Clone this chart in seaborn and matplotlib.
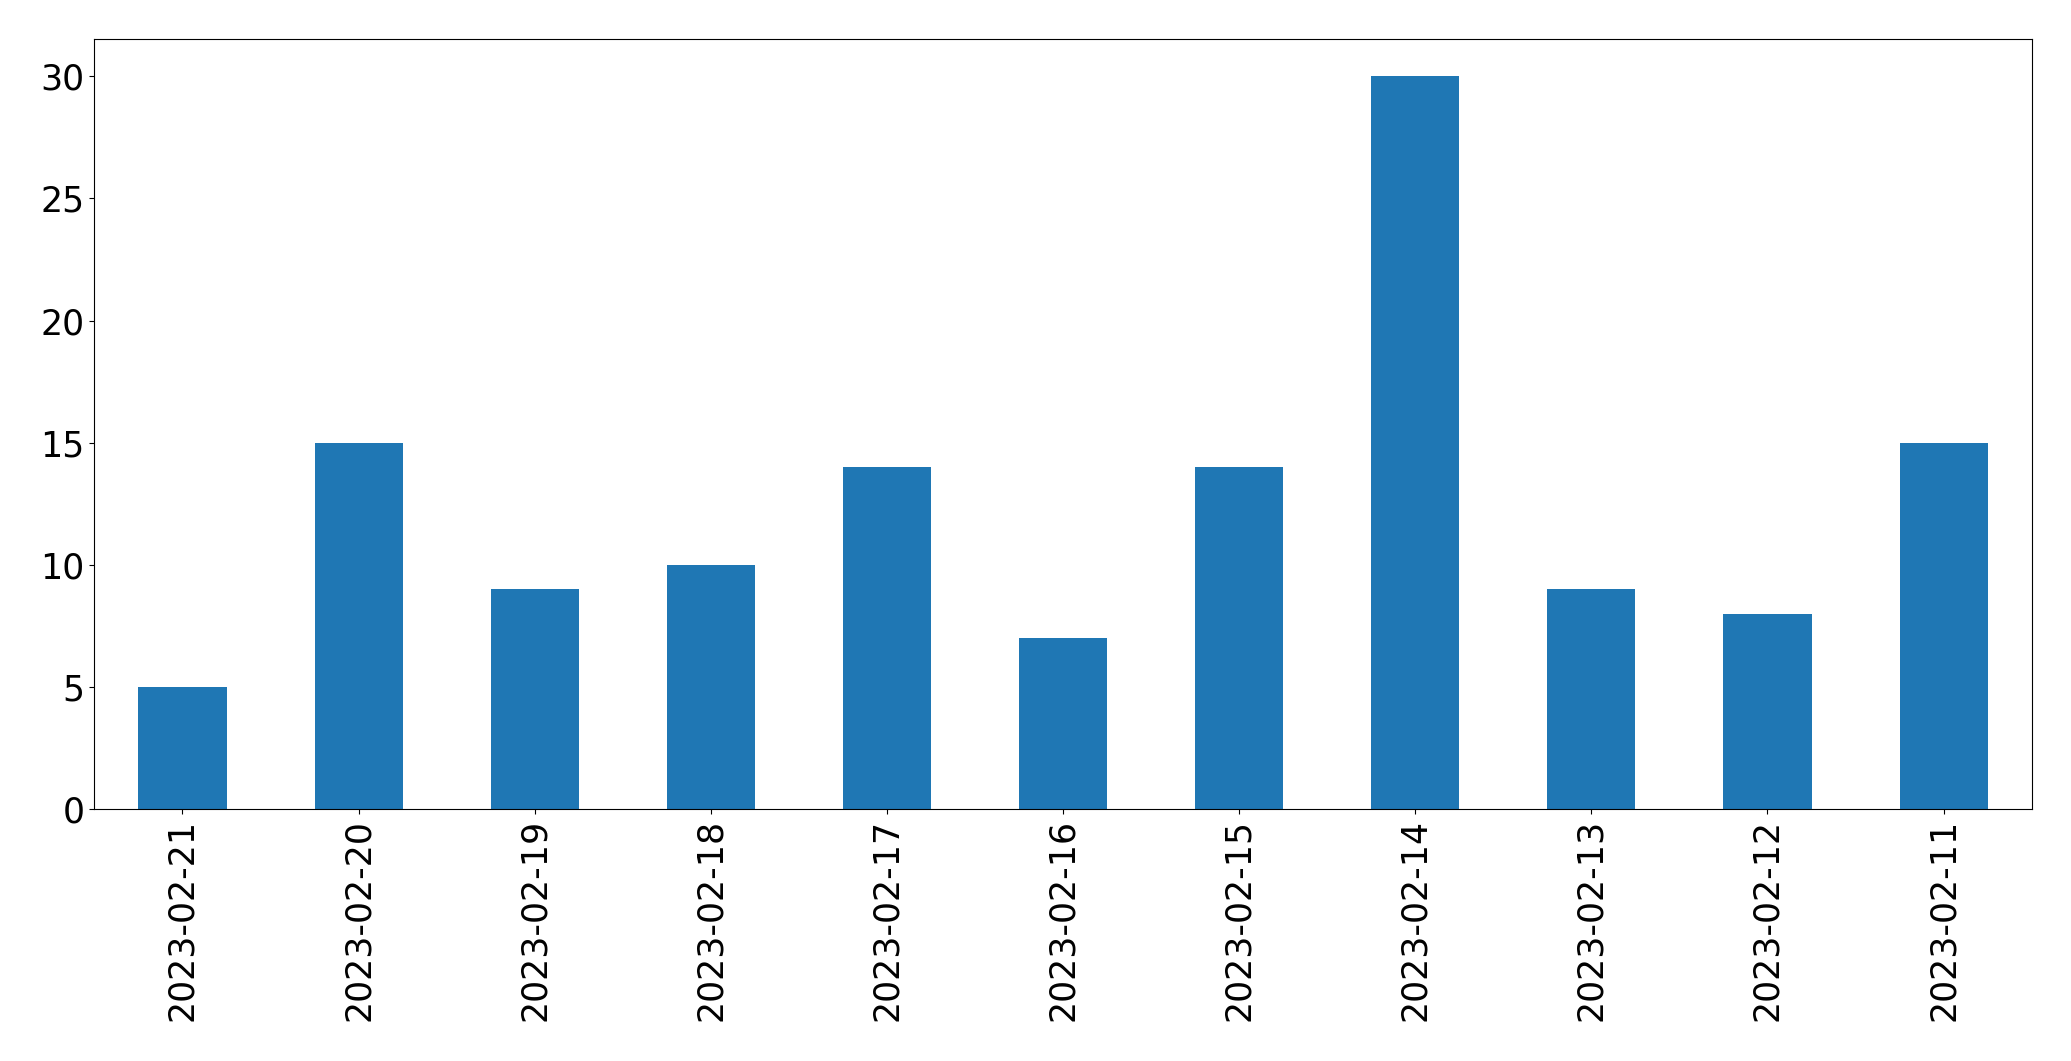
import matplotlib
matplotlib.use("Agg")
import matplotlib.pyplot as plt
import pandas as pd
import seaborn as sns

# datos
fechas = ["2023-02-21", "2023-02-20", "2023-02-19", "2023-02-18", "2023-02-17",
          "2023-02-16", "2023-02-15", "2023-02-14", "2023-02-13", "2023-02-12",
          "2023-02-11"]
conteos = [5, 15, 9, 10, 14, 7, 14, 30, 9, 8, 15]

df = pd.DataFrame({"fecha": fechas, "conteo": conteos})

plt.rcParams["font.family"] = ["DejaVu Sans"]
fig = plt.figure(figsize=(20.71, 10.61), dpi=100)
ax = fig.add_axes([0.0456, 0.2372, 0.9354, 0.7256])

sns.barplot(data=df, x="fecha", y="conteo", order=fechas, color="#1f77b4",
            saturation=1, width=0.5, linewidth=0, ax=ax)

ax.set_xlim(-0.5, len(fechas) - 0.5)
ax.set_ylim(0, 31.5)
ax.set_xlabel("")
ax.set_ylabel("")
ax.tick_params(axis="both", labelsize=25)
plt.setp(ax.get_xticklabels(), rotation=90)

fig.savefig("out.png", dpi=100)
